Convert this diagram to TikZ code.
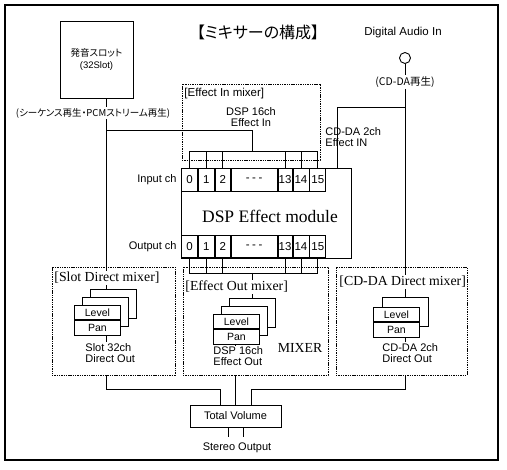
\documentclass[tikz,border=0pt]{standalone}
\usepackage{fontspec}
\setmainfont{Liberation Serif}
\setsansfont{Liberation Sans}
\newfontfamily\jpfont[RawFeature=+palt]{Noto Sans CJK JP}
\usetikzlibrary{positioning}

\begin{document}
\begin{tikzpicture}[
  x=1pt, y=-1pt,
  line width=0.9pt,
  every node/.style={inner sep=1pt},
  lbl/.style={font=\sffamily\fontsize{11}{11}\selectfont, align=left},
  jplbl/.style={font=\jpfont\fontsize{9.5}{11}\selectfont},
  mixlbl/.style={font=\fontsize{13.8}{15}\selectfont, anchor=west},
  mixbox/.style={draw, dash pattern=on 1.4pt off 0.9pt, line width=0.6pt},
  chbox/.style={draw, minimum height=23pt, inner sep=0pt, font=\sffamily\fontsize{11.5}{12}\selectfont},
  cell/.style={draw, fill=white, minimum width=46pt, minimum height=14.5pt, inner sep=0pt, font=\sffamily\fontsize{10.5}{11}\selectfont},
  card/.style={draw, fill=white, minimum width=46pt, minimum height=29pt, inner sep=0pt, anchor=north west}]

\useasboundingbox (0,0) rectangle (507,470);
\draw[line width=1.3pt] (5,5) rectangle (498,460);

\node[font=\jpfont\fontsize{16}{18}\selectfont] (title) at (258,32) {【ミキサーの構成】};

% sources
\node[draw, minimum width=73pt, minimum height=77pt, align=center, font=\sffamily\fontsize{9.5}{12}\selectfont] (slot) at (96.5,59.5) {{\jpfont 発音スロット}\\(32Slot)};
\node[jplbl] (slotlbl) at (93,113) {(シーケンス再生・PCMストリーム再生)};
\node[lbl, font=\sffamily\fontsize{11.5}{12}\selectfont] (dailbl) at (403,33) {Digital Audio In};
\node[draw, circle, minimum size=11pt, inner sep=0pt] (dain) at (405,58) {};
\node[jplbl, font=\jpfont\fontsize{10.5}{12}\selectfont] (cdlbl) at (405,82) {(CD-DA再生)};

% mixers
\node[mixbox, minimum width=138pt, minimum height=76pt] (effin) at (251,122) {};
\node[mixbox, minimum width=123pt, minimum height=108pt] (slotmix) at (113.5,321) {};
\node[mixbox, minimum width=145pt, minimum height=108pt] (effout) at (255.5,321) {};
\node[mixbox, minimum width=131pt, minimum height=108pt] (cdmix) at (401.5,321) {};

\node[lbl, font=\sffamily\fontsize{11.5}{13}\selectfont, anchor=west] (effinlbl) at (183,94) {[Effect In mixer]};
\node[lbl, align=center] (effintxt) at (251,117.5) {DSP 16ch\\Effect In};
\node[lbl, anchor=west] (cdintxt) at (324,137) {CD-DA 2ch\\Effect IN};
\node[mixlbl] (slotmixlbl) at (53,278) {[Slot Direct mixer]};
\node[mixlbl] (effoutlbl) at (184,287) {[Effect Out mixer]};
\node[mixlbl] (cdmixlbl) at (338,282) {[CD-DA Direct mixer]};
\node[font=\fontsize{13.8}{15}\selectfont] (mixer) at (300,348) {MIXER};

% DSP module
\node[draw, minimum width=170pt, minimum height=90pt, anchor=north west] (dsp) at (181,168) {};
\node[font=\fontsize{17.5}{19}\selectfont] (dsptxt) at (270,216) {DSP Effect module};

\node[chbox, minimum width=16pt, anchor=north west] (in0) at (181,168) {0};
\node[chbox, minimum width=16pt, right=0pt of in0] (in1) {1};
\node[chbox, minimum width=15pt, right=0pt of in1] (in2) {2};
\node[chbox, minimum width=46pt, right=0pt of in2] (indots) {-\hspace{2.5pt}-\hspace{2.5pt}-};
\node[chbox, minimum width=14pt, right=0pt of indots] (in13) {13};
\node[chbox, minimum width=16pt, right=0pt of in13] (in14) {14};
\node[chbox, minimum width=16pt, right=0pt of in14] (in15) {15};
\node[lbl, left=3pt of in0] (inlbl) {Input ch};

\node[chbox, minimum height=22pt, minimum width=16pt, anchor=south west] (out0) at (181,258) {0};
\node[chbox, minimum height=22pt, minimum width=16pt, right=0pt of out0] (out1) {1};
\node[chbox, minimum height=22pt, minimum width=15pt, right=0pt of out1] (out2) {2};
\node[chbox, minimum height=22pt, minimum width=46pt, right=0pt of out2] (outdots) {-\hspace{2.5pt}-\hspace{2.5pt}-};
\node[chbox, minimum height=22pt, minimum width=14pt, right=0pt of outdots] (out13) {13};
\node[chbox, minimum height=22pt, minimum width=16pt, right=0pt of out13] (out14) {14};
\node[chbox, minimum height=22pt, minimum width=16pt, right=0pt of out14] (out15) {15};
\node[lbl, left=3pt of out0] (outlbl) {Output ch};

% level / pan stacks
\node[card] (slotC) at (90,289) {};
\node[card] (slotB) at (82,297) {};
\node[cell, anchor=north west] (slotL) at (74,305) {Level};
\node[cell, below=0pt of slotL] (slotP) {Pan};
\node[lbl, anchor=north west] (slotout) at (84,342) {Slot 32ch\\Direct Out};

\node[card] (eoC) at (229,298) {};
\node[card] (eoB) at (221,306) {};
\node[cell, anchor=north west] (eoL) at (213,314) {Level};
\node[cell, below=0pt of eoL] (eoP) {Pan};
\node[lbl, anchor=north west] (eoout) at (212,345) {DSP 16ch\\Effect Out};

\node[card] (cdB) at (382,297) {};
\node[cell, anchor=north west] (cdL) at (373,307) {Level};
\node[cell, below=0pt of cdL] (cdP) {Pan};
\node[lbl, anchor=north west] (cdout) at (381,342) {CD-DA 2ch\\Direct Out};

% output
\node[draw, minimum width=91pt, minimum height=22pt, font=\sffamily\fontsize{11}{12}\selectfont] (total) at (235.5,416) {Total Volume};
\node[lbl] (stereo) at (237,448) {Stereo Output};

% signal lines
\coordinate (slotx) at (106,0);
\coordinate (eox) at (235,0);
\coordinate (cdx) at (405,0);
\coordinate (inbus) at (0,151);
\coordinate (outbus) at (0,273);

\draw (slot.south -| slotx) -- (slotlbl.north -| slotx);
\draw (slotlbl.south -| slotx) -- (slotmixlbl.north -| slotx);
\draw (slotmixlbl.south -| slotx) -- (slotC.north -| slotx);
\draw (slotP.south -| slotx) -- (slotout.north -| slotx);

\coordinate (slotsplit) at (106,130);
\coordinate (effinjoin) at (252,151);
\draw (slotsplit) -| (effinjoin);
\draw (in0.north) |- (in15.north |- inbus) -- (in15.north);
\foreach \c in {1,2,13,14}
  \draw (in\c.north) -- (in\c.north |- inbus);

\draw (dain.south) -- (cdlbl.north);
\draw (cdlbl.south) -- (cdmixlbl.north -| cdx);
\draw (cdmixlbl.south -| cdx) -- (cdB.north -| cdx);
\draw (cdP.south -| cdx) -- (cdout.north -| cdx);
\coordinate (cdsplit) at (405,107);
\coordinate (cdin) at (337,168);
\draw (cdsplit) -| (cdin);

\draw (out0.south) |- (out15.south |- outbus) -- (out15.south);
\foreach \c in {1,2,13,14}
  \draw (out\c.south) -- (out\c.south |- outbus);
\coordinate (effoutjoin) at (252,273);
\draw (effoutjoin) -- (effoutlbl.north -| effoutjoin);
\draw (effoutlbl.south -| effoutjoin) -- (eoC.north -| effoutjoin);
\draw (eoP.south -| eox) -- (eoout.north -| eox);

\coordinate (totL) at ([xshift=-15.5pt]total.north);
\coordinate (totR) at ([xshift=15.5pt]total.north);
\draw (slotmix.south -| slotx) |- ([yshift=15pt]totL) -- (totL);
\draw (effout.south -| eox) -- (total.north -| eox);
\draw (cdmix.south -| cdx) |- ([yshift=15pt]totR) -- (totR);

\coordinate (stL) at ([xshift=-7.5pt]total.south);
\coordinate (stR) at ([xshift=7.5pt]total.south);
\draw (stL) -- ++(0,10);
\draw (stR) -- ++(0,10);
\end{tikzpicture}
\end{document}
